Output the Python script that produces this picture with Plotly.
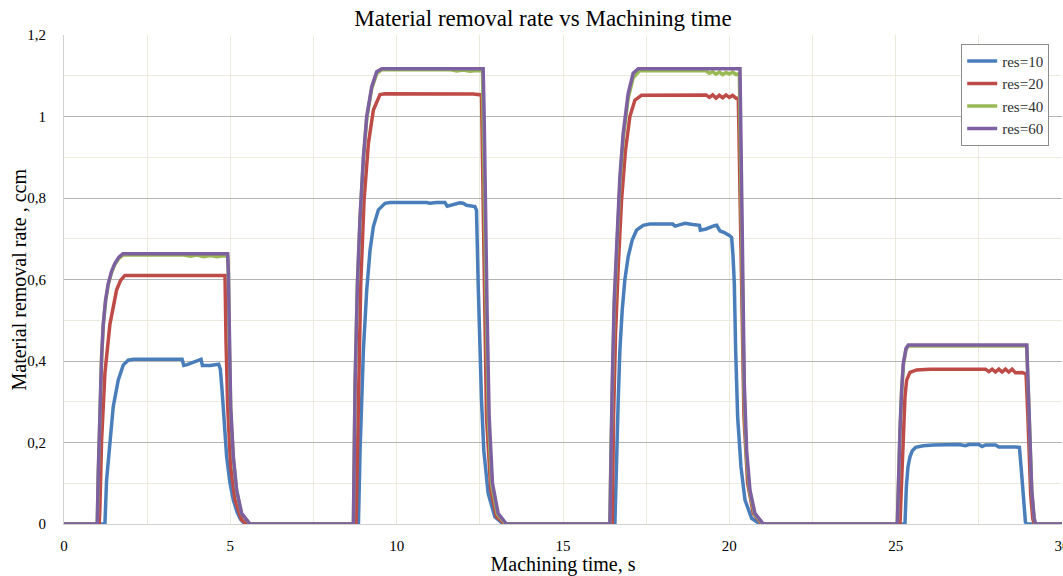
import plotly.graph_objects as go

# ---------------- data ----------------
series_names = ["res=10", "res=20", "res=40", "res=60"]

t10 = [0, 1.23, 1.28, 1.38, 1.48, 1.63, 1.78, 1.93, 2.1, 3.55, 3.6, 3.7, 3.9, 4.12, 4.16, 4.4, 4.65, 4.70, 4.75, 4.79, 4.84, 4.89, 4.99, 5.09, 5.2, 5.3, 5.44,
       8.85, 8.9, 8.95, 9.0, 9.1, 9.2, 9.3, 9.45, 9.65, 9.8, 10.9, 11.0, 11.2, 11.45, 11.52, 11.6, 11.9, 12.0, 12.1, 12.35, 12.40, 12.45, 12.5, 12.55, 12.62, 12.75, 12.95, 13.2,
       16.56, 16.61, 16.66, 16.71, 16.78, 16.86, 16.96, 17.08, 17.21, 17.41, 17.61, 18.3, 18.37, 18.5, 18.67, 18.9, 19.1, 19.13, 19.3, 19.55, 19.62, 19.72, 19.85, 20.0, 20.07, 20.11, 20.15, 20.19, 20.25, 20.35, 20.47, 20.67, 20.92,
       25.28, 25.32, 25.37, 25.43, 25.5, 25.6, 25.83, 26.13, 26.9, 27.1, 27.2, 27.5, 27.6, 27.7, 28.0, 28.1, 28.6, 28.72, 28.79, 28.85, 28.9, 28.94, 30]
y10 = [0, 0, 0.108, 0.206, 0.288, 0.353, 0.39, 0.402, 0.404, 0.404, 0.389, 0.391, 0.397, 0.404, 0.389, 0.389, 0.392, 0.38, 0.33, 0.288, 0.22, 0.165, 0.10, 0.059, 0.03, 0.012, 0,
       0, 0.18, 0.304, 0.427, 0.574, 0.672, 0.73, 0.771, 0.787, 0.789, 0.789, 0.787, 0.789, 0.789, 0.780, 0.782, 0.788, 0.787, 0.782, 0.779, 0.77, 0.59, 0.427, 0.304, 0.18, 0.075, 0.018, 0,
       0, 0.18, 0.304, 0.427, 0.525, 0.6, 0.656, 0.697, 0.721, 0.733, 0.736, 0.736, 0.731, 0.734, 0.738, 0.735, 0.733, 0.721, 0.724, 0.732, 0.733, 0.719, 0.715, 0.708, 0.703, 0.66, 0.59, 0.427, 0.263, 0.14, 0.059, 0.014, 0,
       0, 0.09, 0.14, 0.165, 0.18, 0.188, 0.192, 0.194, 0.195, 0.192, 0.195, 0.195, 0.19, 0.194, 0.194, 0.189, 0.189, 0.188, 0.12, 0.043, 0.005, 0, 0]

t20 = [0, 1.06, 1.08, 1.13, 1.23, 1.38, 1.58, 1.70, 1.83, 4.84, 4.87, 4.92, 5.01, 5.14, 5.34, 5.49,
       8.78, 8.85, 8.92, 9.02, 9.15, 9.30, 9.50, 9.65, 11.3, 11.4, 11.5, 11.7, 11.9, 12.1, 12.3, 12.55, 12.58, 12.63, 12.70, 12.83, 13.0, 13.25,
       16.48, 16.52, 16.58, 16.66, 16.76, 16.88, 17.01, 17.16, 17.36, 19.3, 19.4, 19.5, 19.6, 19.7, 19.8, 19.9, 20.0, 20.1, 20.2, 20.27, 20.31, 20.37, 20.44, 20.55, 20.72, 20.97,
       25.13, 25.18, 25.23, 25.28, 25.33, 25.43, 25.63, 26.03, 27.7, 27.8, 27.9, 28.0, 28.1, 28.2, 28.3, 28.4, 28.5, 28.6, 28.8, 28.92, 28.97, 29.01, 29.06, 29.12, 29.16, 30]
y20 = [0, 0, 0.042, 0.206, 0.37, 0.49, 0.574, 0.598, 0.610, 0.610, 0.45, 0.288, 0.14, 0.059, 0.01, 0,
       0, 0.345, 0.59, 0.795, 0.934, 1.016, 1.054, 1.056, 1.056, 1.054, 1.056, 1.055, 1.056, 1.054, 1.055, 1.053, 0.918, 0.59, 0.263, 0.083, 0.018, 0,
       0, 0.263, 0.468, 0.631, 0.795, 0.918, 1.0, 1.04, 1.052, 1.053, 1.047, 1.053, 1.045, 1.052, 1.046, 1.053, 1.047, 1.052, 1.045, 1.045, 0.836, 0.509, 0.263, 0.1, 0.026, 0,
       0, 0.108, 0.23, 0.312, 0.353, 0.372, 0.378, 0.38, 0.38, 0.374, 0.38, 0.373, 0.38, 0.373, 0.38, 0.373, 0.38, 0.371, 0.372, 0.368, 0.272, 0.15, 0.07, 0.014, 0, 0]

t40 = [0, 1.00, 1.03, 1.08, 1.13, 1.18, 1.25, 1.33, 1.43, 1.53, 1.65, 1.77, 3.6, 3.8, 4.0, 4.2, 4.4, 4.6, 4.8, 4.92, 4.94, 4.97, 5.01, 5.09, 5.19, 5.34, 5.59,
       8.70, 8.75, 8.82, 8.90, 9.00, 9.10, 9.25, 9.40, 9.55, 11.6, 11.8, 12.0, 12.2, 12.4, 12.58, 12.61, 12.65, 12.70, 12.76, 12.86, 13.03, 13.28,
       16.41, 16.44, 16.48, 16.54, 16.61, 16.71, 16.81, 16.96, 17.11, 17.30, 19.3, 19.4, 19.5, 19.6, 19.7, 19.8, 19.9, 20.0, 20.1, 20.2, 20.30, 20.34, 20.38, 20.44, 20.51, 20.61, 20.76, 21.0,
       25.05, 25.08, 25.13, 25.18, 25.23, 25.31, 25.38, 28.94, 28.99, 29.04, 29.09, 29.16, 29.20, 30]
y40 = [0, 0, 0.12, 0.285, 0.405, 0.487, 0.547, 0.587, 0.617, 0.637, 0.652, 0.660, 0.660, 0.657, 0.660, 0.656, 0.659, 0.656, 0.658, 0.657, 0.61, 0.44, 0.28, 0.16, 0.08, 0.025, 0,
       0, 0.34, 0.585, 0.75, 0.895, 0.995, 1.068, 1.105, 1.115, 1.115, 1.112, 1.114, 1.111, 1.113, 1.112, 0.99, 0.74, 0.5, 0.255, 0.095, 0.024, 0,
       0, 0.17, 0.33, 0.53, 0.655, 0.835, 0.945, 1.045, 1.095, 1.112, 1.112, 1.106, 1.110, 1.104, 1.109, 1.103, 1.108, 1.104, 1.109, 1.103, 1.105, 0.9, 0.65, 0.33, 0.17, 0.08, 0.024, 0,
       0, 0.105, 0.225, 0.325, 0.39, 0.428, 0.437, 0.437, 0.31, 0.188, 0.082, 0.015, 0, 0]

t60 = [0, 1.00, 1.03, 1.08, 1.13, 1.18, 1.25, 1.33, 1.43, 1.53, 1.65, 1.77, 4.92, 4.94, 4.97, 5.01, 5.09, 5.19, 5.34, 5.59,
       8.70, 8.75, 8.82, 8.90, 9.00, 9.10, 9.25, 9.40, 9.55, 12.60, 12.63, 12.67, 12.72, 12.78, 12.88, 13.05, 13.30,
       16.41, 16.44, 16.48, 16.54, 16.61, 16.71, 16.81, 16.96, 17.11, 17.26, 20.32, 20.35, 20.39, 20.45, 20.52, 20.62, 20.77, 21.02,
       25.05, 25.08, 25.13, 25.18, 25.23, 25.31, 25.38, 28.94, 28.99, 29.04, 29.09, 29.16, 29.20, 30]
y60 = [0, 0, 0.124, 0.288, 0.41, 0.49, 0.55, 0.59, 0.62, 0.64, 0.655, 0.663, 0.663, 0.62, 0.45, 0.288, 0.165, 0.083, 0.026, 0,
       0, 0.345, 0.59, 0.754, 0.90, 1.0, 1.073, 1.11, 1.117, 1.117, 1.0, 0.754, 0.509, 0.263, 0.10, 0.026, 0,
       0, 0.18, 0.345, 0.55, 0.672, 0.852, 0.959, 1.057, 1.106, 1.117, 1.117, 0.918, 0.672, 0.345, 0.18, 0.083, 0.026, 0,
       0, 0.108, 0.23, 0.329, 0.394, 0.431, 0.439, 0.439, 0.312, 0.19, 0.083, 0.016, 0, 0]

x_ticks = [0, 5, 10, 15, 20, 25, 30]
y_ticks = [0, 0.2, 0.4, 0.6, 0.8, 1.0, 1.2]
y_tick_labels = ["0", "0,2", "0,4", "0,6", "0,8", "1", "1,2"]

# ---------------- styling ----------------
colors = ["#4A7EBB", "#BE4B48", "#98B954", "#7D60A0"]
FONT = "Liberation Serif, Times New Roman, serif"

fig = go.Figure()
for name, t, y, c in zip(series_names, [t10, t20, t40, t60], [y10, y20, y40, y60], colors):
    assert len(t) == len(y), name
    fig.add_trace(go.Scatter(x=t, y=y, mode="lines", name=name,
                             line=dict(color=c, width=3.5)))

fig.update_layout(
    width=1063, height=576,
    margin=dict(l=64, r=1, t=35, b=52, autoexpand=False),
    paper_bgcolor="white", plot_bgcolor="white",
    font=dict(family=FONT, color="#000000", size=14),
    title=dict(text="Material removal rate vs Machining time", x=543 / 1063, xref="container",
               xanchor="center", y=1 - 18 / 576, yref="container", yanchor="middle",
               font=dict(family=FONT, size=23, color="#000000"), automargin=False),
    showlegend=True,
    legend=dict(x=0.899, y=0.982, xanchor="left", yanchor="top",
                bgcolor="white", bordercolor="#8C8C8C", borderwidth=1,
                font=dict(family=FONT, size=15, color="#303030"),
                itemwidth=30, tracegroupgap=0, entrywidth=66),
)

fig.update_xaxes(
    range=[0, 30], tickvals=x_ticks, ticktext=[str(v) for v in x_ticks],
    showgrid=True, gridcolor="#ECEADC", gridwidth=1,
    minor=dict(dtick=2.5, tick0=0, showgrid=True, gridcolor="#ECEADC", gridwidth=1),
    showline=True, linecolor="#D0D0D0", linewidth=1, ticks="", zeroline=False,
    automargin=False, ticklabeloverflow="allow", ticklabelstandoff=8,
    tickfont=dict(family=FONT, size=15, color="#000000"),
    title=dict(text="Machining time, s", font=dict(family=FONT, size=20, color="#000000"), standoff=9),
)
fig.update_yaxes(
    range=[0, 1.2], tickvals=y_ticks, ticktext=y_tick_labels,
    showgrid=True, gridcolor="#B4B4B4", gridwidth=1,
    minor=dict(dtick=0.1, tick0=0, showgrid=True, gridcolor="#ECEADC", gridwidth=1),
    showline=True, linecolor="#D0D0D0", linewidth=1, ticks="", zeroline=False,
    automargin=False,
    tickfont=dict(family=FONT, size=15, color="#000000"), ticklabelstandoff=14,
)

# y-axis title placed precisely (centre at x = 18 px)
fig.add_annotation(text="Material removal rate , ccm", textangle=-90,
                   xref="paper", yref="paper", x=(18 - 64) / 998, y=0.5,
                   xanchor="center", yanchor="middle", showarrow=False,
                   font=dict(family=FONT, size=20, color="#000000"))

fig.write_html("out.html", config={"displayModeBar": False},
               post_script="document.body.style.margin='0px';document.body.style.overflow='hidden';")
